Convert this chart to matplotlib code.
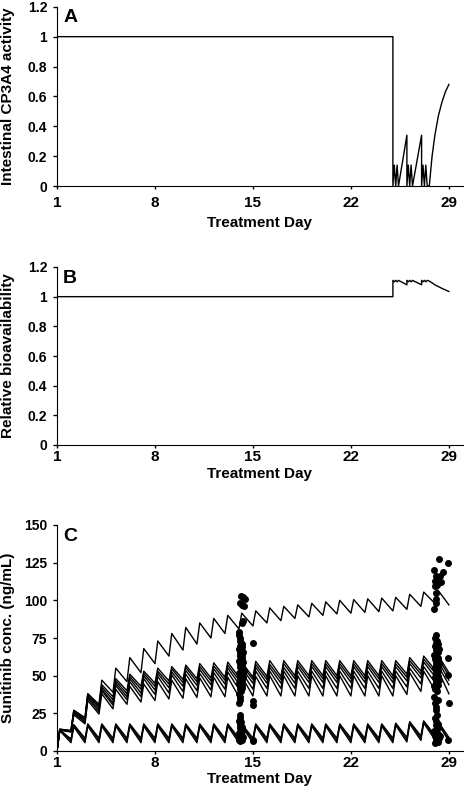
import matplotlib.pyplot as plt

plt.rcParams['font.family'] = ['Liberation Sans', 'DejaVu Sans']
plt.rcParams['font.weight'] = 'bold'

# A: intestinal CYP3A4 activity
cyp_day = [1, 25.0, 25.0, 25.1, 25.2, 25.3, 25.4, 26.0, 26.0,
           26.1, 26.2, 26.3, 26.4, 27.05, 27.05, 27.15, 27.25, 27.35, 27.45, 27.6,
           27.8, 28.0, 28.25, 28.5, 28.75, 29.0]
cyp_act = [1, 1, 0, 0.14, 0, 0.14, 0, 0.34, 0,
           0.14, 0, 0.14, 0, 0.34, 0, 0.14, 0, 0.14, 0, 0,
           0.2, 0.34, 0.47, 0.56, 0.63, 0.68]

# B: relative bioavailability
bio_day = [1, 25.0, 25.0, 25.1, 25.2, 25.3, 25.4, 26.0, 26.0,
           26.1, 26.2, 26.3, 26.4, 27.05, 27.05, 27.15, 27.25, 27.35, 27.45, 27.6,
           27.8, 28.0, 28.5, 29.0]
bio_val = [1, 1, 1.11, 1.10, 1.11, 1.10, 1.11, 1.08, 1.11,
           1.10, 1.11, 1.10, 1.11, 1.08, 1.11, 1.10, 1.11, 1.10, 1.11, 1.105,
           1.093, 1.08, 1.056, 1.035]

# C: simulated sunitinib profiles, peak after dose on days 1-28, trough before next dose (days 2-29)
top_peak = [14.5, 27, 38, 47, 55, 62, 68, 73, 78, 82, 85, 88, 90, 91.5, 93, 95, 96, 97, 98,
            99, 100, 100.5, 101, 101.5, 102, 104, 105.5, 107]
top_trough = [13.5, 22, 31, 39, 46, 52, 58, 63, 67, 71, 75, 78, 81, 83, 85, 86.5, 88, 89, 90,
              91, 91.5, 92, 92.5, 93, 94, 96, 98, 97]

m1_peak = [14.5, 27, 38, 44, 48, 51, 53, 55, 56, 57, 58, 58.5, 59, 59, 59.5, 60, 60, 60, 60,
           60, 60, 60, 60, 60, 60, 62, 63, 64]
m1_trough = [13.5, 22, 30, 36, 40, 43, 45, 46.5, 47.5, 48, 48.5, 49, 49, 49, 49.5, 49.5, 50, 50,
             50, 50, 50, 50, 50, 50, 51, 53, 54, 52]
m2_peak = [14, 26, 37, 42.5, 46.5, 49.5, 51.5, 53, 54.5, 55.5, 56, 56.5, 57, 57, 57.5, 57.5, 58,
           58, 58, 58, 58, 58, 58, 58, 58, 60, 61, 62]
m2_trough = [13.5, 21, 29, 34, 38, 41, 43, 44.5, 45.5, 46, 46.5, 47, 47, 47.5, 47.5, 47.5, 48, 48,
             48, 48, 48, 48, 48, 48, 49, 51, 52, 50]
m3_peak = [14, 25.5, 36, 41, 45, 48, 50, 51.5, 52.5, 53.5, 54, 54.5, 55, 55, 55.5, 55.5, 55.5, 56,
           56, 56, 56, 56, 56, 56, 56, 58, 59, 60]
m3_trough = [13, 20, 27.5, 32, 36, 38.5, 40.5, 42, 43, 43.5, 44, 44.5, 44.5, 45, 45, 45, 45, 45.5,
             45.5, 45.5, 45.5, 45.5, 45.5, 45.5, 46.5, 48.5, 49.5, 47]
m4_peak = [14, 25, 35, 40, 43.5, 46, 48, 49.5, 50.5, 51, 51.5, 52, 52.5, 52.5, 53, 53, 53, 53, 53,
           53, 53, 53, 53, 53, 53, 55, 56, 57]
m4_trough = [13, 19, 26, 30.5, 34, 36, 37.5, 38.5, 39.5, 40, 40.5, 41, 41, 41, 41.5, 41.5, 41.5,
             41.5, 41.5, 41.5, 41.5, 41.5, 41.5, 41.5, 42.5, 44.5, 45.5, 44]
m5_peak = [14, 24, 33.5, 38, 41, 43, 44.5, 46, 47, 48, 48.5, 49, 49, 49.5, 49.5, 50, 50, 50, 50,
           50, 50, 50, 50, 50, 50, 52, 53, 54]
m5_trough = [12.5, 18, 24.5, 28, 31, 32.5, 33.5, 34.5, 35, 35.5, 36, 36, 36, 36.5, 36.5, 36.5,
             36.5, 36.5, 36.5, 36.5, 36.5, 36.5, 36.5, 36.5, 37.5, 39.5, 40.5, 38]

l1_peak = [14, 17.5, 18, 18, 18, 18, 18, 18, 18, 18, 18, 18, 18, 18, 18, 18, 18, 18, 18, 18, 18,
           18, 18, 18, 18.5, 19.5, 20, 20]
l1_trough = [8, 8.5, 8.5, 8.5, 8.5, 8.5, 8.5, 8.5, 8.5, 8.5, 8.5, 8.5, 8.5, 8.5, 8.5, 8.5, 8.5,
             8.5, 8.5, 8.5, 8.5, 8.5, 8.5, 8.5, 9, 10, 10.5, 9]
l2_peak = [14, 17, 17.5, 17.5, 17.5, 17.5, 17.5, 17.5, 17.5, 17.5, 17.5, 17.5, 17.5, 17.5, 17.5,
           17.5, 17.5, 17.5, 17.5, 17.5, 17.5, 17.5, 17.5, 17.5, 18, 19, 19.5, 19.5]
l2_trough = [7, 7, 7, 7, 7, 7, 7, 7, 7, 7, 7, 7, 7, 7, 7, 7, 7, 7, 7, 7, 7, 7, 7, 7, 7.5, 8.5, 9, 8]
l3_peak = [13.5, 16, 16.5, 16.5, 16.5, 16.5, 16.5, 16.5, 16.5, 16.5, 16.5, 16.5, 16.5, 16.5, 16.5,
           16.5, 16.5, 16.5, 16.5, 16.5, 16.5, 16.5, 16.5, 16.5, 17, 18, 18.5, 18.5]
l3_trough = [5.5, 5.5, 5.5, 5.5, 5.5, 5.5, 5.5, 5.5, 5.5, 5.5, 5.5, 5.5, 5.5, 5.5, 5.5, 5.5, 5.5,
             5.5, 5.5, 5.5, 5.5, 5.5, 5.5, 5.5, 6, 7, 7.5, 6.5]

# observed concentrations (days 14/15 and 28/29)
obs_day = [14.15, 14.3, 14.4, 14.1, 14.35, 14.2, 14.3, 14.2, 14.0, 14.0, 14.1, 14.97,
           14.05, 14.15, 14.2, 14.1, 14.25, 14.0, 14.15, 14.3, 14.1, 14.2, 14.05, 14.25, 14.15,
           14.0, 14.3, 14.1, 14.2, 14.05, 14.25, 14.15, 14.35, 14.0, 14.2, 14.1, 14.3, 14.05,
           14.2, 14.15, 14.0, 14.25, 14.1, 14.2, 14.05, 14.15, 14.0, 14.1, 14.05, 14.0,
           14.97, 14.97,
           14.05, 14.1, 14.0, 14.15, 14.1, 14.2, 14.05, 14.15, 14.25, 14.0, 14.1, 14.2, 14.3,
           14.05, 14.15, 14.0, 14.25, 14.1, 14.97, 15.0,
           28.26, 28.92, 27.95, 28.6, 28.1, 28.4, 28.0, 28.25, 28.45, 28.15, 28.0, 28.05, 28.1,
           28.05, 27.95,
           28.1, 28.0, 28.15, 28.05, 28.2, 28.0, 28.1, 28.3, 28.05, 28.2, 28.15, 27.95, 28.1,
           28.25, 28.0, 28.15, 28.05, 28.3, 28.1, 28.2, 28.0, 28.15, 28.25, 28.05, 28.1, 28.2,
           28.0, 28.15, 28.3, 28.05, 28.1, 28.2, 27.95, 28.1, 28.0, 28.15,
           28.96, 28.96, 28.98, 28.96,
           27.95, 28.2, 28.0, 28.1, 28.05, 28.15, 28.0, 28.1, 28.2, 28.05, 28.25, 27.95, 28.1,
           28.2, 28.0, 28.15, 28.3, 28.05, 28.2, 28.0, 28.35]
obs_conc = [103, 102, 101, 98, 96, 97, 86, 85, 79, 77, 75, 72,
            73, 72, 71, 70, 69, 68, 67, 66, 65, 64, 63, 62, 61,
            60, 59, 58, 57, 56, 55, 54, 53, 52, 51, 50, 49, 48,
            47, 46, 45, 44, 43, 42, 41, 40, 38, 36, 34, 31.6,
            33.4, 30.8,
            24, 22, 20, 19, 17, 16, 15, 14, 13, 12, 11, 10, 9.5,
            9, 8, 7, 7.5, 6.5, 6.5, 7.5,
            127.5, 124.5, 120, 119, 116, 116, 113, 112.5, 112, 110, 109.5, 105, 101,
            98, 94,
            77, 75, 73, 72, 71, 70, 69, 68, 67, 66, 65, 64, 63,
            62, 61, 60, 59, 58, 57, 56, 55, 54, 53, 52, 51, 50,
            49, 48, 47, 46, 45, 44, 43, 42, 41, 40,
            61.5, 50.4, 31.6, 7.3,
            36, 34, 32, 29, 27, 24, 22, 20, 18, 17, 15, 13, 12,
            11, 10, 9, 8.5, 7.5, 6, 5.5, 10]


def sawtooth(peaks, troughs):
    days = [1.0]
    conc = [0.0]
    for i in range(len(peaks)):
        days += [i + 1.2, i + 2.0]
        conc += [peaks[i], troughs[i]]
    return days, conc


def style_axis(ax, yticks, ylabels, ylabel, letter, xpad, xlab_y):
    ax.spines['top'].set_visible(False)
    ax.spines['right'].set_visible(False)
    ax.set_xlim(1, 30)
    ax.set_xticks([1, 8, 15, 22, 29])
    ax.set_yticks(yticks)
    ax.set_yticklabels(ylabels)
    ax.set_ylim(yticks[0], yticks[-1])
    ax.tick_params(axis='x', direction='out', length=2.5, width=1, pad=xpad, labelsize=11)
    ax.tick_params(axis='y', direction='out', length=3, width=1, pad=4, labelsize=10)
    ax.set_ylabel(ylabel, fontsize=11, fontweight='bold')
    ax.yaxis.set_label_coords(-0.103, 0.5)
    ax.set_xlabel('Treatment Day', fontsize=11, fontweight='bold')
    ax.xaxis.set_label_coords(0.5, xlab_y)
    ax.text(0.015, 0.985, letter, transform=ax.transAxes, fontsize=14,
            fontweight='bold', va='top', ha='left')


fig = plt.figure(figsize=(4.66, 8), dpi=100)
axA = fig.add_axes([0.1223, 0.7675, 0.871, 0.224])
axB = fig.add_axes([0.1223, 0.44375, 0.871, 0.2225])
axC = fig.add_axes([0.1223, 0.06125, 0.871, 0.2825])

axA.plot(cyp_day, cyp_act, color='black', lw=1)
style_axis(axA, [0, 0.2, 0.4, 0.6, 0.8, 1.0, 1.2], ['0', '0.2', '0.4', '0.6', '0.8', '1', '1.2'],
           'Intestinal CP3A4 activity', 'A', 4.5, -0.17)

axB.plot(bio_day, bio_val, color='black', lw=1)
style_axis(axB, [0, 0.2, 0.4, 0.6, 0.8, 1.0, 1.2], ['0', '0.2', '0.4', '0.6', '0.8', '1', '1.2'],
           'Relative bioavailability', 'B', 1.2, -0.126)

curves = [(top_peak, top_trough), (m1_peak, m1_trough), (m2_peak, m2_trough),
          (m3_peak, m3_trough), (m4_peak, m4_trough), (m5_peak, m5_trough),
          (l1_peak, l1_trough), (l2_peak, l2_trough), (l3_peak, l3_trough)]
for pk, tr in curves:
    d, c = sawtooth(pk, tr)
    axC.plot(d, c, color='black', lw=1)
axC.scatter(obs_day, obs_conc, s=16, color='black', zorder=3, clip_on=False)
style_axis(axC, [0, 25, 50, 75, 100, 125, 150], ['0', '25', '50', '75', '100', '125', '150'],
           'Sunitinib conc. (ng/mL)', 'C', 1.2, -0.095)

fig.savefig('out.png', dpi=100)
